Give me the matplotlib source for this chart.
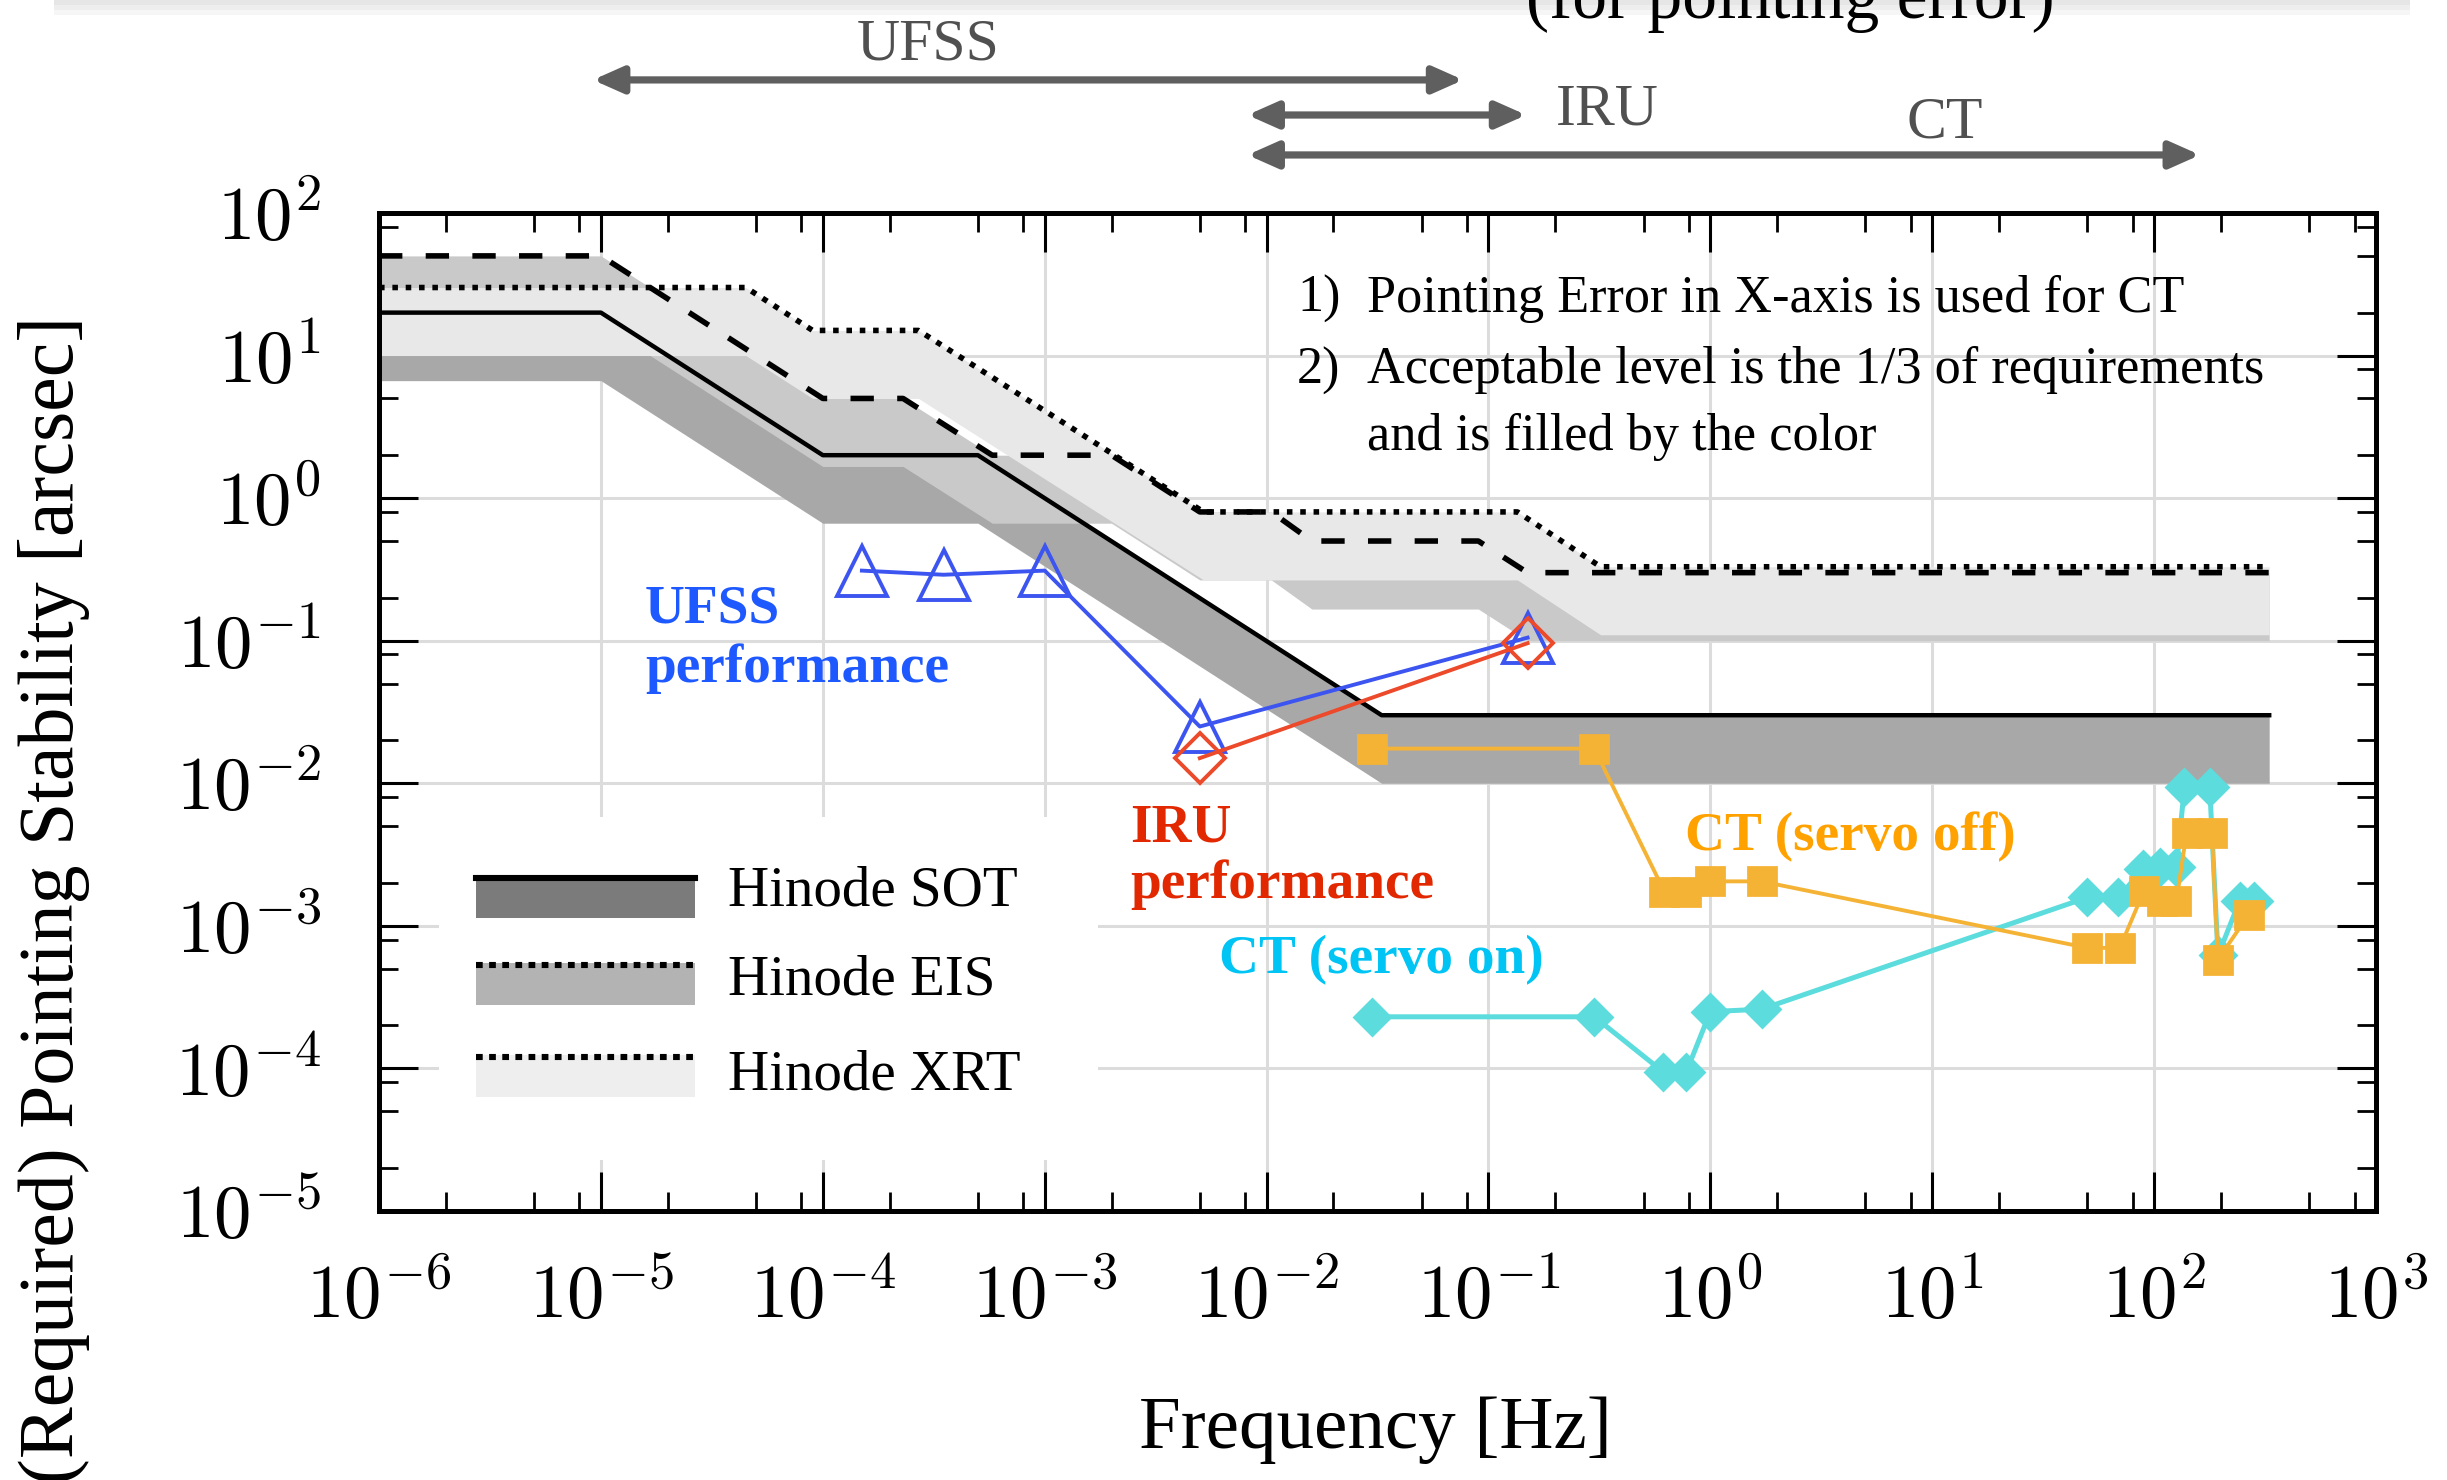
import numpy as np
import matplotlib
matplotlib.use("Agg")
import matplotlib.pyplot as plt
from matplotlib.ticker import LogLocator, FuncFormatter, NullFormatter
from matplotlib.patches import Rectangle
from matplotlib.lines import Line2D

# Hinode requirement curves: frequency [Hz] vs pointing stability [arcsec]
sot_f = [1e-6, 1e-5, 1e-4, 5e-4, 3.3e-2, 330]
sot_req = [20, 20, 2, 2, 0.03, 0.03]
eis_f = [1e-6, 1e-5, 1e-4, 2.3e-4, 5.8e-4, 2e-3, 5e-3, 1.05e-2, 1.6e-2, 9e-2, 1.5e-1, 330]
eis_req = [50, 50, 5, 5, 2, 2, 0.8, 0.8, 0.5, 0.5, 0.3, 0.3]
xrt_f = [1e-6, 4.5e-5, 9e-5, 2.7e-4, 5.2e-3, 1.35e-1, 3.2e-1, 330]
xrt_req = [30, 30, 15, 15, 0.8, 0.8, 0.33, 0.33]

# sensor performance
ufss_f = [1.5e-4, 3.5e-4, 1e-3, 5e-3, 0.15]
ufss_v = [0.31, 0.29, 0.31, 0.025, 0.105]
iru_f = [5e-3, 0.15]
iru_v = [0.015, 0.096]
ct_off_f = [0.03, 0.3, 0.62, 0.78, 1.0, 1.7, 50, 70, 90, 108, 126, 140, 182, 194, 267]
ct_off_v = [0.0175, 0.0175, 1.74e-3, 1.74e-3, 2.05e-3, 2.05e-3, 7.0e-4, 7.0e-4,
            1.76e-3, 1.5e-3, 1.5e-3, 4.5e-3, 4.5e-3, 5.8e-4, 1.2e-3]
ct_on_f = [0.03, 0.3, 0.61, 0.78, 1.0, 1.7, 50, 69, 89, 106, 126, 137, 178, 194, 243, 281]
ct_on_v = [2.3e-4, 2.3e-4, 9.5e-5, 9.5e-5, 2.5e-4, 2.6e-4, 1.58e-3, 1.58e-3,
           2.5e-3, 2.6e-3, 2.6e-3, 9.4e-3, 9.4e-3, 6.2e-4, 1.5e-3, 1.5e-3]

# frequency range of each sensor (arrows above the plot)
sensor_names = ["UFSS", "IRU", "CT"]
sensor_fmin = [9.2e-6, 8.2e-3, 8.2e-3]
sensor_fmax = [7.7e-2, 0.148, 161]

legend_labels = ["Hinode SOT", "Hinode EIS", "Hinode XRT"]

plt.rcParams['font.family'] = ['Liberation Serif', 'DejaVu Serif']
plt.rcParams['mathtext.fontset'] = 'cm'

fig = plt.figure(figsize=(12.235, 7.40), dpi=200)
ax = fig.add_axes((0.1549, 0.1818, 0.8161, 0.6743))
ax.set_xscale('log')
ax.set_yscale('log')
ax.set_xlim(1e-6, 1e3)
ax.set_ylim(1e-5, 1e2)

# acceptable level = 1/3 of requirement, filled
for f, req, c in [(sot_f, sot_req, '#a8a8a8'), (eis_f, eis_req, '#c9c9c9'), (xrt_f, xrt_req, '#e8e8e8')]:
    ax.fill_between(f, np.array(req) / 3, req, color=c, lw=0, zorder=1)

ax.plot(sot_f, sot_req, color='k', lw=1.6, zorder=2)
ax.plot(eis_f, eis_req, color='k', lw=2.0, ls=(0, (4.2, 4.2)), zorder=2)
ax.plot(xrt_f, xrt_req, color='k', lw=2.0, ls=(0, (1, 1.4)), zorder=2)

ax.plot(ct_on_f, ct_on_v, color='#5cdcdc', lw=1.8, marker='D', ms=9, zorder=3)
ax.plot(ct_off_f, ct_off_v, color='#f5b335', lw=1.4, marker='s', ms=10, zorder=3.5)
ax.plot(ufss_f, ufss_v, color='#3c55f0', lw=1.4, marker='^', ms=18, mfc='none', mew=1.4, zorder=4)
ax.plot(iru_f, iru_v, color='#ec4a2a', lw=1.4, marker='D', ms=12.5, mfc='none', mew=1.4, zorder=4.5)

# axes style
ax.set_axisbelow(True)
ax.grid(True, which='major', color='#dcdcdc', lw=1.1)
for a in (ax.xaxis, ax.yaxis):
    a.set_major_locator(LogLocator(base=10, numticks=20))
    a.set_minor_locator(LogLocator(base=10, subs=(2, 5, 8), numticks=20))
    a.set_major_formatter(FuncFormatter(lambda v, p: r'$10^{%d}$' % round(np.log10(v))))
    a.set_minor_formatter(NullFormatter())
ax.tick_params(which='both', direction='in', top=True, right=True)
ax.tick_params(which='major', length=14, width=1.1, labelsize=27)
ax.tick_params(which='minor', length=7, width=1.0)
ax.tick_params(axis='x', pad=19)
ax.tick_params(axis='y', pad=21)
for s in ax.spines.values():
    s.set_linewidth(1.8)

# legend (drawn by hand, white box over the grid)
ax.add_patch(Rectangle((0.03, 0.051), 0.33, 0.344, transform=ax.transAxes, fc='white', ec='none', zorder=0.8))
leg_fc = ['#7b7b7b', '#b3b3b3', '#eeeeee']
leg_y = [0.2933, 0.2064, 0.1145]
leg_base = [0.3056, 0.2164, 0.1212]
leg_ls = ['-', (0, (1.1, 1.05)), (0, (1.1, 1.05))]
for i in range(3):
    ax.add_patch(Rectangle((0.0486, leg_y[i]), 0.1096, 0.042, transform=ax.transAxes,
                           fc=leg_fc[i], ec='none', zorder=5))
    ax.add_line(Line2D([0.0486, 0.1582], [leg_y[i] + 0.040] * 2, transform=ax.transAxes,
                       color='k', lw=2.2, ls=leg_ls[i], zorder=6))
    ax.text(0.1748, leg_base[i], legend_labels[i], transform=ax.transAxes, fontsize=20.5, va='baseline')

# labels inside the plot
lab = dict(fontsize=19.9, fontweight='bold', va='baseline')
ax.text(1.58e-5, 0.134, "UFSS", color='#1e58ff', **lab)
ax.text(1.58e-5, 0.0514, "performance", color='#1e58ff', **lab)
ax.text(2.42e-3, 3.93e-3, "IRU", color='#e22800', **lab)
ax.text(2.42e-3, 1.56e-3, "performance", color='#e22800', **lab)
ax.text(0.77, 3.4e-3, "CT (servo off)", color='#ffa200', **lab)
ax.text(6.08e-3, 4.64e-4, "CT (servo on)", color='#00c4f4', **lab)

note = dict(fontsize=18.8, va='baseline')
ax.text(0.0137, 20.3, "1)", **note)
ax.text(0.0284, 20.3, "Pointing Error in X-axis is used for CT", **note)
ax.text(0.0137, 6.39, "2)", **note)
ax.text(0.0284, 6.39, "Acceptable level is the 1/3 of requirements", **note)
ax.text(0.0284, 2.17, "and is filled by the color", **note)

# sensor frequency ranges above the axes
arrow_y = [0.946, 0.9223, 0.8953]
name_xy = [(0.3502, 0.9595), (0.6359, 0.9162), (0.7793, 0.9068)]
for i in range(3):
    ax.annotate('', xy=(sensor_fmax[i], arrow_y[i]), xycoords=('data', 'figure fraction'),
                xytext=(sensor_fmin[i], arrow_y[i]), textcoords=('data', 'figure fraction'),
                arrowprops=dict(arrowstyle='<|-|>,head_length=0.45,head_width=0.2', color='#5f5f5f',
                                lw=2.6, shrinkA=0, shrinkB=0, mutation_scale=20),
                annotation_clip=False)
    fig.text(name_xy[i][0], name_xy[i][1], sensor_names[i], color='#505050', fontsize=21.5, va='baseline')

# top edge of the screenshot
for k, c in enumerate(['#e6e6e6', '#eeeeee', '#f6f6f6']):
    fig.add_artist(Rectangle((0.022, 1 - (k + 1) * 0.0033), 0.963, 0.0033, transform=fig.transFigure,
                             fc=c, ec='none', zorder=0))
fig.text(0.6236, 0.9878, "(for pointing error)", fontsize=25, va='baseline')

fig.text(0.0219, 0.392, "(Required) Pointing Stability [arcsec]", rotation=90, ha='center', va='center', fontsize=28)
fig.text(0.5621, 0.0216, "Frequency [Hz]", ha='center', va='baseline', fontsize=27)

fig.savefig("out.png", dpi=200)
